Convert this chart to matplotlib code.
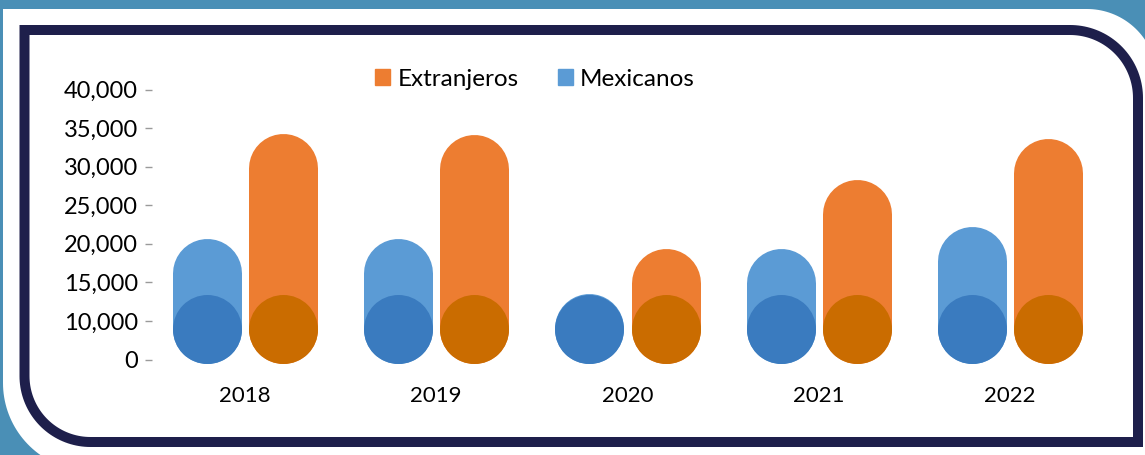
import matplotlib.pyplot as plt
import numpy as np
from matplotlib.patches import Polygon, Patch
from matplotlib.ticker import FuncFormatter

plt.rcParams['font.family'] = ['Lato', 'DejaVu Sans']

# data
years = ['2018', '2019', '2020', '2021', '2022']
mexicanos = [20750, 20750, 13600, 19450, 22200]
extranjeros = [34300, 34200, 19450, 28300, 33700]
y_ticks = [0, 10000, 15000, 20000, 25000, 30000, 35000, 40000]

c_mex, c_mex_dark = '#5B9BD5', '#3A7BBF'
c_ext, c_ext_dark = '#ED7D31', '#CA6C00'
navy = '#1E1F4B'
teal = '#4A8FB6'

W, H = 1145, 455
fig = plt.figure(figsize=(W / 100, H / 100), dpi=100, facecolor=teal)


def rounded_outline(x0, y0, x1, y1, r_tl, r_tr, r_br, r_bl, n=40):
    # corners in image pixels (y down), returns figure fractions
    pts = []
    corners = [((x0, y0), r_tl, (x0 + r_tl, y0 + r_tl), 180),
               ((x1, y0), r_tr, (x1 - r_tr, y0 + r_tr), 270),
               ((x1, y1), r_br, (x1 - r_br, y1 - r_br), 0),
               ((x0, y1), r_bl, (x0 + r_bl, y1 - r_bl), 90)]
    for corner, r, c, a0 in corners:
        if r == 0:
            pts.append(corner)
        else:
            t = np.radians(np.linspace(a0, a0 + 90, n))
            pts += list(zip(c[0] + r * np.cos(t), c[1] + r * np.sin(t)))
    pts = np.array(pts)
    return np.column_stack([pts[:, 0] / W, 1 - pts[:, 1] / H])


fig.add_artist(Polygon(rounded_outline(3, 9, 1157, 471, 0, 70, 0, 88),
                       closed=True, transform=fig.transFigure,
                       facecolor='white', edgecolor='none', zorder=-3))
fig.add_artist(Polygon(rounded_outline(24.5, 30, 1138, 442, 0, 68, 0, 66),
                       closed=True, transform=fig.transFigure, fill=False,
                       edgecolor=navy, linewidth=7.2, joinstyle='miter',
                       zorder=-2))

ax = fig.add_axes([152 / W, (H - 359.5) / H, (1103 - 152) / W, 270 / H])
ax.set_facecolor('none')


# broken value axis: 0 -> 10,000 takes one step, like the others
def fwd(v):
    v = np.asarray(v, dtype=float)
    return np.where(v < 10000, v / 2, v - 5000)


def inv(u):
    u = np.asarray(u, dtype=float)
    return np.where(u < 5000, u * 2, u + 5000)


ax.set_yscale('function', functions=(fwd, inv))
ax.set_ylim(0, 40000)
x = np.arange(len(years))
ax.set_xlim(-0.486, len(years) - 1 + 0.486)

base = 8000
radius_px = 34.5
lw = 2 * radius_px * 0.72

for xs, vals, col in [(x - 0.2, mexicanos, c_mex), (x + 0.2, extranjeros, c_ext)]:
    for xi, v in zip(xs, vals):
        xd, yd = ax.transData.transform((xi, v))
        top = ax.transData.inverted().transform((xd, yd - radius_px))[1]
        top = max(top, base)
        ax.plot([xi, xi], [base, top], color=col, lw=lw,
                solid_capstyle='round', clip_on=False, zorder=2)

ax.plot(x - 0.2, [base] * len(x), 'o', ms=lw, color=c_mex_dark,
        mec='none', clip_on=False, zorder=3)
ax.plot(x + 0.2, [base] * len(x), 'o', ms=lw, color=c_ext_dark,
        mec='none', clip_on=False, zorder=3)

for s in ax.spines.values():
    s.set_visible(False)
ax.set_yticks(y_ticks)
ax.yaxis.set_major_formatter(FuncFormatter(lambda v, p: f'{v:,.0f}'))
ax.yaxis.set_minor_locator(plt.NullLocator())
ax.tick_params(axis='y', length=5, width=1, color='#9a9a9a', pad=5,
               labelsize=17, labelcolor='black')
ax.set_xticks(x)
ax.set_xticklabels(years)
ax.tick_params(axis='x', length=0, pad=19, labelsize=16, labelcolor='black')

handles = [Patch(color=c_ext, label='Extranjeros'),
           Patch(color=c_mex, label='Mexicanos')]
fig.legend(handles=handles, loc='center', bbox_to_anchor=(535 / W, 1 - 79 / H),
           ncol=2, frameon=False, fontsize=17.5, handlelength=0.62,
           handleheight=0.62, handletextpad=0.3, columnspacing=1.6)

fig.savefig('out.png', dpi=100, facecolor=teal)
